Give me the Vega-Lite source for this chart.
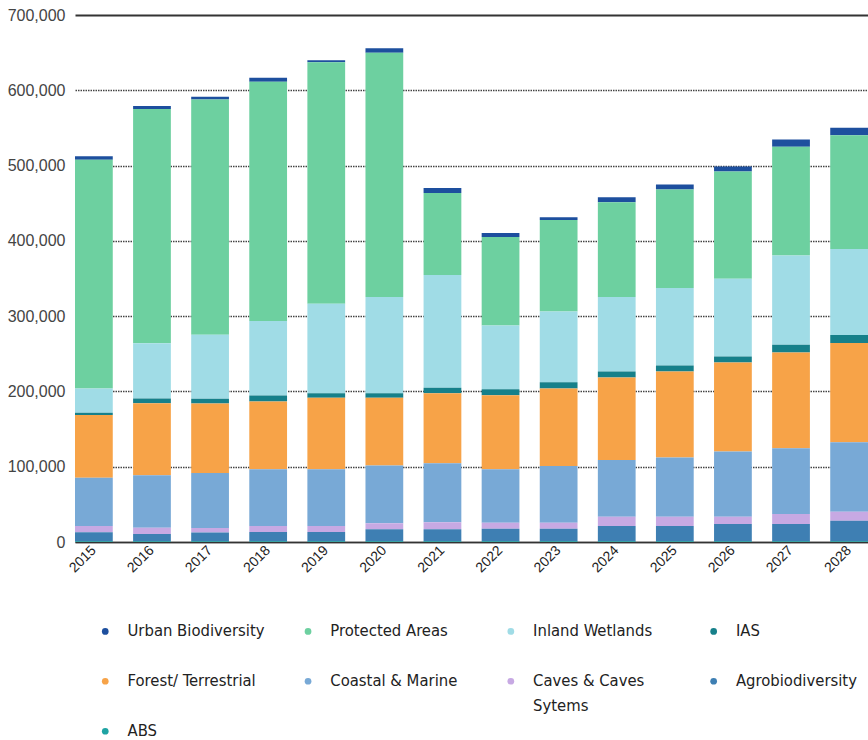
{
  "$schema": "https://vega.github.io/schema/vega-lite/v6.json",
  "width": 793,
  "height": 527,
  "autosize": "none",
  "padding": {"left": 75, "top": 15, "right": 0, "bottom": 198},
  "background": "white",
  "config": {"view": {"stroke": null}},
  "data": {
    "values": [
      {"year": "2015", "Urban Biodiversity": 4500, "Protected Areas": 304000, "Inland Wetlands": 32000, "IAS": 3000, "Forest/ Terrestrial": 83500, "Coastal & Marine": 64000, "Caves & Caves Sytems": 8400, "Agrobiodiversity": 11900, "ABS": 1000},
      {"year": "2016", "Urban Biodiversity": 4000, "Protected Areas": 311000, "Inland Wetlands": 73400, "IAS": 6200, "Forest/ Terrestrial": 95700, "Coastal & Marine": 69700, "Caves & Caves Sytems": 8400, "Agrobiodiversity": 9600, "ABS": 1000},
      {"year": "2017", "Urban Biodiversity": 3500, "Protected Areas": 312500, "Inland Wetlands": 85100, "IAS": 6200, "Forest/ Terrestrial": 92200, "Coastal & Marine": 73200, "Caves & Caves Sytems": 6100, "Agrobiodiversity": 11500, "ABS": 1000},
      {"year": "2018", "Urban Biodiversity": 5300, "Protected Areas": 317800, "Inland Wetlands": 99000, "IAS": 7900, "Forest/ Terrestrial": 89900, "Coastal & Marine": 75400, "Caves & Caves Sytems": 8000, "Agrobiodiversity": 12300, "ABS": 1000},
      {"year": "2019", "Urban Biodiversity": 2600, "Protected Areas": 320900, "Inland Wetlands": 118800, "IAS": 6200, "Forest/ Terrestrial": 94800, "Coastal & Marine": 75400, "Caves & Caves Sytems": 8000, "Agrobiodiversity": 12300, "ABS": 1000},
      {"year": "2020", "Urban Biodiversity": 6100, "Protected Areas": 324500, "Inland Wetlands": 127700, "IAS": 6200, "Forest/ Terrestrial": 90000, "Coastal & Marine": 76700, "Caves & Caves Sytems": 7900, "Agrobiodiversity": 15900, "ABS": 1000},
      {"year": "2021", "Urban Biodiversity": 6600, "Protected Areas": 109100, "Inland Wetlands": 149800, "IAS": 7100, "Forest/ Terrestrial": 93000, "Coastal & Marine": 78500, "Caves & Caves Sytems": 9300, "Agrobiodiversity": 15900, "ABS": 1000},
      {"year": "2022", "Urban Biodiversity": 5300, "Protected Areas": 117600, "Inland Wetlands": 84600, "IAS": 8000, "Forest/ Terrestrial": 98300, "Coastal & Marine": 71000, "Caves & Caves Sytems": 8000, "Agrobiodiversity": 16700, "ABS": 1000},
      {"year": "2023", "Urban Biodiversity": 3500, "Protected Areas": 121500, "Inland Wetlands": 94100, "IAS": 8300, "Forest/ Terrestrial": 102800, "Coastal & Marine": 75400, "Caves & Caves Sytems": 8000, "Agrobiodiversity": 16700, "ABS": 1000},
      {"year": "2024", "Urban Biodiversity": 6700, "Protected Areas": 125800, "Inland Wetlands": 98900, "IAS": 8000, "Forest/ Terrestrial": 109500, "Coastal & Marine": 75400, "Caves & Caves Sytems": 12300, "Agrobiodiversity": 20300, "ABS": 1000},
      {"year": "2025", "Urban Biodiversity": 6600, "Protected Areas": 130700, "Inland Wetlands": 103000, "IAS": 7900, "Forest/ Terrestrial": 114400, "Coastal & Marine": 78500, "Caves & Caves Sytems": 12300, "Agrobiodiversity": 20300, "ABS": 1000},
      {"year": "2026", "Urban Biodiversity": 6700, "Protected Areas": 142300, "Inland Wetlands": 103300, "IAS": 8000, "Forest/ Terrestrial": 118300, "Coastal & Marine": 86500, "Caves & Caves Sytems": 9700, "Agrobiodiversity": 22900, "ABS": 1000},
      {"year": "2027", "Urban Biodiversity": 9700, "Protected Areas": 144200, "Inland Wetlands": 118700, "IAS": 10300, "Forest/ Terrestrial": 127100, "Coastal & Marine": 87400, "Caves & Caves Sytems": 13300, "Agrobiodiversity": 22900, "ABS": 1000},
      {"year": "2028", "Urban Biodiversity": 9800, "Protected Areas": 151100, "Inland Wetlands": 114300, "IAS": 10700, "Forest/ Terrestrial": 131600, "Coastal & Marine": 92300, "Caves & Caves Sytems": 12000, "Agrobiodiversity": 27300, "ABS": 1000}
    ]
  },
  "transform": [
    {"fold": ["Urban Biodiversity", "Protected Areas", "Inland Wetlands", "IAS", "Forest/ Terrestrial", "Coastal & Marine", "Caves & Caves Sytems", "Agrobiodiversity", "ABS"], "as": ["category", "value"]},
    {"window": [{"op": "row_number", "as": "stack_rank"}], "groupby": ["year"]}
  ],
  "mark": {"type": "bar"},
  "encoding": {
    "x": {
      "field": "year", "type": "ordinal",
      "scale": {"paddingInner": 0.35, "paddingOuter": 0},
      "axis": {
        "title": null, "labelAngle": -45, "labelAlign": "right", "labelBaseline": "middle",
        "labelFont": "Liberation Sans", "labelFontSize": 14, "labelColor": "#222", "labelPadding": 6,
        "ticks": false, "domainColor": "#333", "domainWidth": 1.5
      }
    },
    "y": {
      "field": "value", "type": "quantitative", "stack": "zero",
      "scale": {"domain": [0, 700000], "nice": false},
      "axis": {
        "title": null, "values": [0, 100000, 200000, 300000, 400000, 500000, 600000, 700000],
        "format": ",d", "domain": false, "ticks": false,
        "labelFont": "Liberation Sans", "labelFontSize": 16, "labelColor": "#444", "labelPadding": 10,
        "gridColor": {"condition": {"test": "datum.value == 700000", "value": "#333"}, "value": "#444"},
        "gridWidth": {"condition": {"test": "datum.value == 700000", "value": 2}, "value": 1.5},
        "gridDash": {"condition": {"test": "datum.value == 700000 || datum.value == 0", "value": []}, "value": [1.5, 1]}
      }
    },
    "order": {"field": "stack_rank", "type": "quantitative", "sort": "descending"},
    "color": {
      "field": "category", "type": "nominal",
      "scale": {
        "domain": ["Urban Biodiversity", "Protected Areas", "Inland Wetlands", "IAS", "Forest/ Terrestrial", "Coastal & Marine", "Caves & Caves Sytems", "Agrobiodiversity", "ABS"],
        "range": ["#1d4f9e", "#6dd0a0", "#a0dce6", "#16808a", "#f7a348", "#78a9d6", "#c7a9e3", "#3e7fb3", "#1fa3a3"]
      },
      "legend": {
        "title": null, "orient": "none", "legendX": 22, "legendY": 608, "direction": "horizontal",
        "columns": 4, "gridAlign": "all", "columnPadding": 34.8, "rowPadding": 8,
        "symbolType": "circle", "symbolSize": 45, "symbolStrokeWidth": 0, "labelOffset": 14,
        "labelFont": "DejaVu Sans Condensed, Liberation Sans", "labelFontSize": 16.5, "labelColor": "#222", "labelLimit": 200,
        "labelExpr": "datum.label == 'Caves & Caves Sytems' ? ['Caves & Caves', 'Sytems'] : [datum.label, ' ']",
        "encode": {"labels": {"update": {"lineHeight": {"value": 25}}}}
      }
    }
  }
}
